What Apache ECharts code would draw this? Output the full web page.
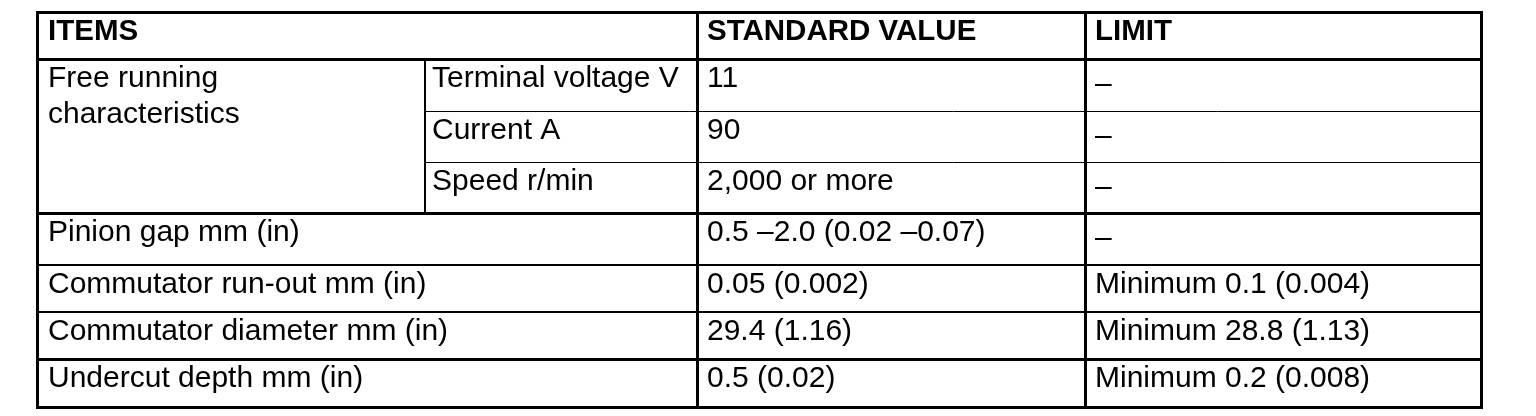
<!DOCTYPE html>
<html>
<head>
<meta charset="utf-8">
<script src="https://cdn.jsdelivr.net/npm/echarts@6/dist/echarts.min.js"></script>
<style>
	html, body { margin: 0; padding: 0; background: #fff; }
	#chart { width: 1536px; height: 416px; }
</style>
</head>
<body>
<div id="chart"></div>
<script>
// table content
const headers = ["ITEMS", "STANDARD VALUE", "LIMIT"];
const groupItem = "Free running\ncharacteristics";
const subItems = ["Terminal voltage V", "Current A", "Speed r/min"];
const items = ["Pinion gap mm (in)", "Commutator run-out mm (in)", "Commutator diameter mm (in)", "Undercut depth mm (in)"];
const standardValues = ["11", "90", "2,000 or more", "0.5 \u20132.0 (0.02 \u20130.07)", "0.05 (0.002)", "29.4 (1.16)", "0.5 (0.02)"];
const limits = ["\u2013", "\u2013", "\u2013", "\u2013", "Minimum 0.1 (0.004)", "Minimum 28.8 (1.13)", "Minimum 0.2 (0.008)"];

// layout of the grid (table units = px inside the table)
const colEdges = [0, 388, 660, 1048, 1444];
const colPad = [11, 7, 10, 10];
const rowEdges = [0, 47, 99, 150, 201, 253, 300, 347, 395];
const FONT = "'Liberation Sans', Arial, Helvetica, sans-serif";

// cells: [col, row, text, bold]
const cells = [];
cells.push([0, 0, headers[0], 1]);
cells.push([2, 0, headers[1], 1]);
cells.push([3, 0, headers[2], 1]);
cells.push([0, 1, groupItem, 0]);
subItems.forEach((t, i) => cells.push([1, 1 + i, t, 0]));
items.forEach((t, i) => cells.push([0, 4 + i, t, 0]));
standardValues.forEach((t, i) => cells.push([2, 1 + i, t, 0]));
limits.forEach((t, i) => cells.push([3, 1 + i, t, 0]));

// rules: [x0, y0, x1, y1, width] in grid indices
const rules = [
	[0, 0, 4, 0, 3], [0, 1, 4, 1, 3], [1, 2, 4, 2, 1], [1, 3, 4, 3, 1],
	[0, 4, 4, 4, 3], [0, 5, 4, 5, 2], [0, 6, 4, 6, 2], [0, 7, 4, 7, 3], [0, 8, 4, 8, 3],
	[0, 0, 0, 8, 3], [1, 1, 1, 4, 2], [2, 0, 2, 8, 3], [3, 0, 3, 8, 3], [4, 0, 4, 8, 3]
];

const chart = echarts.init(document.getElementById("chart"));

chart.setOption({
	animation: false,
	grid: { left: 37, top: 12, width: 1444, height: 395 },
	xAxis: { type: "value", min: 0, max: 1444, show: false },
	yAxis: { type: "value", min: 0, max: 395, inverse: true, show: false },
	series: [
		{
			type: "custom",
			coordinateSystem: "cartesian2d",
			data: cells.map(c => [colEdges[c[0]], rowEdges[c[1]], c[2], c[3]]),
			encode: { x: 0, y: 1 },
			renderItem: (params, api) => {
				const cell = cells[params.dataIndex];
				const p = api.coord([api.value(0), api.value(1)]);
				const bold = api.value(3) === 1;
				const text = cell[2];
				// the lone dash sits low in its cell
				const dy = text === "\u2013" ? 8 : 2;
				return {
					type: "text",
					x: p[0] + colPad[cell[0]],
					y: p[1] + dy,
					style: {
						text: text,
						fill: "#000",
						font: (bold ? "bold 29.5px " : "30px ") + FONT,
						verticalAlign: "top",
						align: "left",
						lineHeight: 36
					}
				};
			}
		},
		{
			type: "custom",
			coordinateSystem: "cartesian2d",
			data: rules.map(r => [colEdges[r[0]], rowEdges[r[1]], colEdges[r[2]], rowEdges[r[3]], r[4]]),
			encode: { x: [0, 2], y: [1, 3] },
			renderItem: (params, api) => {
				const a = api.coord([api.value(0), api.value(1)]);
				const b = api.coord([api.value(2), api.value(3)]);
				const w = api.value(4);
				const o = w % 2 === 1 ? 0.5 : 0;
				return {
					type: "line",
					shape: {
						x1: Math.round(a[0]) + o, y1: Math.round(a[1]) + o,
						x2: Math.round(b[0]) + o, y2: Math.round(b[1]) + o
					},
					style: { stroke: "#000", lineWidth: w, lineCap: "square" }
				};
			}
		}
	]
});
</script>
</body>
</html>
